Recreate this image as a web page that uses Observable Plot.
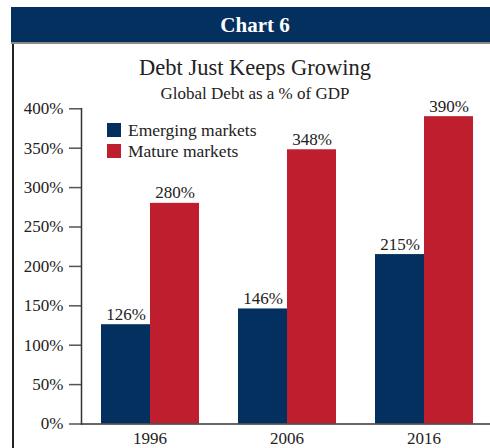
<!DOCTYPE html>
<html>
<head>
<meta charset="utf-8">
<script src="https://cdn.jsdelivr.net/npm/d3@7"></script>
<script src="https://cdn.jsdelivr.net/npm/@observablehq/plot@0.6"></script>
<style>
  body { margin:0; width:490px; height:448px; overflow:hidden; position:relative; background:#fff; font-family:"Liberation Serif", serif; color:#222; }
  .abs { position:absolute; }
  #band { left:11px; top:7px; width:488px; height:35px; background:#03305f; color:#fff; font-weight:bold; font-size:21px; text-align:center; line-height:37px; }
  #rule { left:11px; top:42px; width:479px; height:2px; background:#8a8a8a; }
  #border { left:12px; top:44px; width:1.5px; height:404px; background:#222; }
  #title { left:11px; width:488px; top:57px; text-align:center; font-size:22.5px; line-height:1; }
  #subtitle { left:11px; width:488px; top:84.8px; text-align:center; font-size:17px; line-height:1; }
  .sw { width:14px; height:14px; left:107px; }
  .lt { left:128px; font-size:17.5px; line-height:1; white-space:nowrap; }
  #chart { left:0; top:100px; }
</style>
</head>
<body>
<div id="band" class="abs">Chart 6</div>
<div id="rule" class="abs"></div>
<div id="border" class="abs"></div>
<div id="title" class="abs">Debt Just Keeps Growing</div>
<div id="subtitle" class="abs">Global Debt as a % of GDP</div>
<div id="chart" class="abs"></div>
<div id="legend"></div>
<script>
const years = ["1996", "2006", "2016"];
const series = ["Emerging markets", "Mature markets"];
const emerging = [126, 146, 215];
const mature = [280, 348, 390];
const yTicks = [0, 50, 100, 150, 200, 250, 300, 350, 400];
const colors = ["#03305f", "#be1e2e"];

const rows = [];
years.forEach((yr, i) => {
  rows.push({year: yr, series: series[0], value: emerging[i]});
  rows.push({year: yr, series: series[1], value: mature[i]});
});

const chart = Plot.plot({
  width: 490,
  height: 348,
  marginLeft: 81,
  marginRight: -2,
  marginTop: 8.3,
  marginBottom: 24.5,
  style: {fontFamily: "Liberation Serif, serif", color: "#222", background: "transparent", overflow: "visible"},
  fx: {domain: years, paddingInner: 0, paddingOuter: 0, label: null, axis: null},
  x: {domain: series, paddingInner: 0, paddingOuter: 0.384, axis: null},
  y: {domain: [0, 400], axis: null},
  color: {domain: series, range: colors},
  marks: [
    Plot.barY(rows, {fx: "year", x: "series", y: "value", fill: "series"}),
    Plot.text(rows, {fx: "year", x: "series", y: "value", text: d => d.value + "%", dy: -5, lineAnchor: "bottom", fontSize: 17, fill: "#222"}),
    Plot.axisFx({anchor: "bottom", tickSize: 0, tickPadding: 8, fontSize: 17, label: null, fill: "#222"}),
    Plot.axisY({ticks: yTicks, tickFormat: d => d + "%", tickSize: 12, tickPadding: 6, fontSize: 17, label: null, stroke: "#555", strokeWidth: 1.5, fill: "#222"}),
    Plot.frame({facetAnchor: "left", anchor: "left", stroke: "#333", strokeWidth: 1.5}),
    Plot.ruleY([0], {stroke: "#333", strokeWidth: 1.5})
  ]
});
document.getElementById("chart").append(chart);

const legend = document.getElementById("legend");
series.forEach((s, i) => {
  const sw = document.createElement("div");
  sw.className = "abs sw";
  sw.style.top = (123 + i * 21.3) + "px";
  sw.style.background = colors[i];
  legend.append(sw);
  const t = document.createElement("div");
  t.className = "abs lt";
  t.style.top = (121.6 + i * 21.3) + "px";
  t.textContent = s;
  legend.append(t);
});
</script>
</body>
</html>
